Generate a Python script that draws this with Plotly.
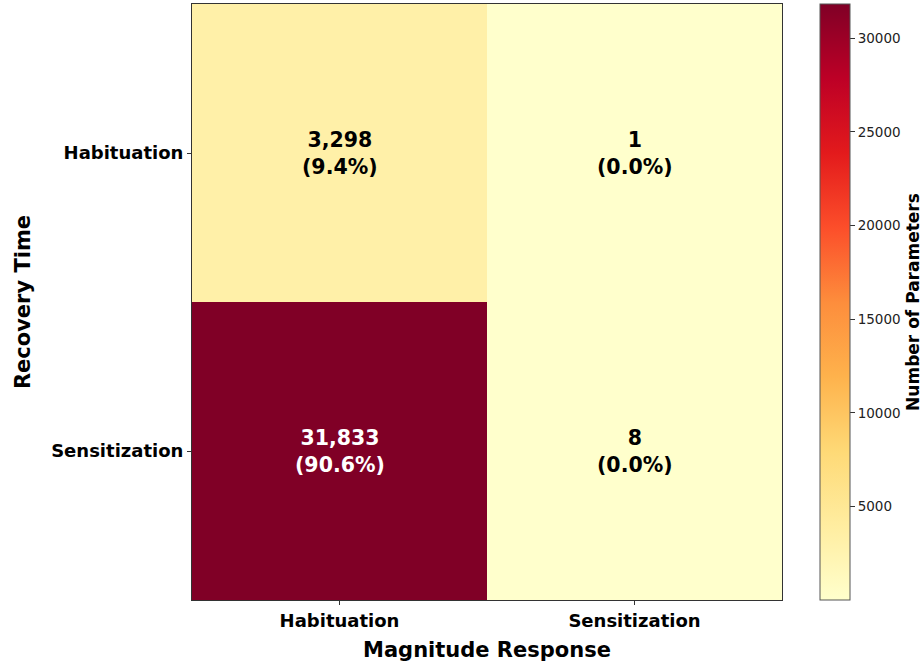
import plotly.graph_objects as go

# Cross-tabulation of parameter sets by response class
magnitude = ["Habituation", "Sensitization"]          # columns (x)
recovery = ["Habituation", "Sensitization"]           # rows (y)
counts = [
    [3298, 1],      # Recovery: Habituation
    [31833, 8],     # Recovery: Sensitization
]
cbar_ticks = [5000, 10000, 15000, 20000, 25000, 30000]

total = sum(sum(r) for r in counts)
vmin = min(min(r) for r in counts)
vmax = max(max(r) for r in counts)

ylorrd = [
    [0.000, "#ffffcc"], [0.125, "#ffeda0"], [0.250, "#fed976"],
    [0.375, "#feb24c"], [0.500, "#fd8d3c"], [0.625, "#fc4e2a"],
    [0.750, "#e31a1c"], [0.875, "#bd0026"], [1.000, "#800026"],
]

FONT = "DejaVu Sans"
W, H = 922, 663

fig = go.Figure(
    go.Heatmap(
        x=magnitude,
        y=recovery,
        z=counts,
        zmin=vmin,
        zmax=vmax,
        colorscale=ylorrd,
        showscale=True,
        colorbar=dict(
            title=dict(text="<b>Number of Parameters</b>", side="right",
                       font=dict(family=FONT, size=17, color="black")),
            tickvals=cbar_ticks,
            ticktext=[str(t) for t in cbar_ticks],
            ticks="outside",
            ticklen=5,
            tickcolor="#333",
            tickfont=dict(family=FONT, size=13.5, color="#222"),
            thickness=30,
            len=1,
            lenmode="fraction",
            y=0.5,
            yanchor="middle",
            ypad=0,
            xref="container",
            x=820 / W,
            xanchor="left",
            xpad=0,
            outlinecolor="#555",
            outlinewidth=1,
        ),
        hoverongaps=False,
    )
)

# Cell labels: count and share of total
annotations = []
for i, row_name in enumerate(recovery):
    for j, col_name in enumerate(magnitude):
        v = counts[i][j]
        color = "white" if (v - vmin) / (vmax - vmin) > 0.5 else "black"
        annotations.append(dict(
            x=col_name, y=row_name, xref="x", yref="y",
            text=f"<b>{v:,}<br>({100 * v / total:.1f}%)</b>",
            showarrow=False,
            font=dict(family=FONT, size=20.5, color=color),
        ))

fig.update_layout(
    width=W,
    height=H,
    margin=dict(l=192, r=140, t=4, b=63, autoexpand=False),
    paper_bgcolor="white",
    plot_bgcolor="white",
    annotations=annotations,
    xaxis=dict(
        title=dict(text="<b>Magnitude Response</b>",
                   font=dict(family=FONT, size=21, color="black"), standoff=12),
        tickfont=dict(family=FONT, size=18, color="black"),
        ticks="outside", ticklen=4, tickcolor="#333",
        showline=True, linecolor="#333", linewidth=1, mirror=True,
        tickprefix="<b>", ticksuffix="</b>",
    ),
    yaxis=dict(
        title=dict(text="<b>Recovery Time</b>",
                   font=dict(family=FONT, size=21, color="black"), standoff=14),
        tickfont=dict(family=FONT, size=18, color="black"),
        ticks="outside", ticklen=4, tickcolor="#333",
        showline=True, linecolor="#333", linewidth=1, mirror=True,
        autorange="reversed",
        tickprefix="<b>", ticksuffix="</b>",
    ),
)

fig.write_html("out.html")
